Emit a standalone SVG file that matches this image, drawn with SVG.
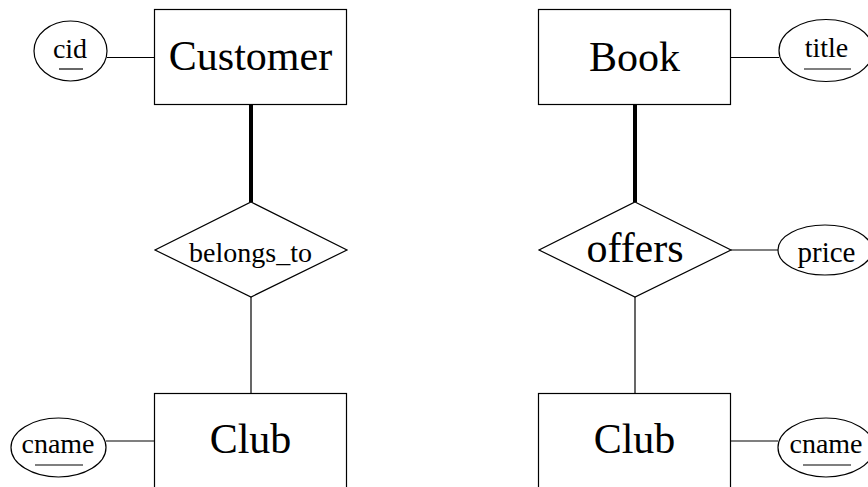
<svg xmlns="http://www.w3.org/2000/svg" width="868" height="487" viewBox="0 0 868 487">
  <style>
    .shape { fill: #fff; stroke: #000; stroke-width: 1.2; }
    .link { stroke: #000; stroke-width: 1.2; fill: none; }
    .bold { stroke: #000; stroke-width: 4; fill: none; }
    .ul { stroke: #000; stroke-width: 1.2; }
    text { font-family: "Liberation Serif", "Times New Roman", serif; fill: #000; text-anchor: middle; }
    .ent { font-size: 42px; }
    .attr { font-size: 28px; }
  </style>
  <rect width="868" height="487" fill="#fff"/>

  <!-- connectors -->
  <g id="connectors">
    <line class="link" x1="107" y1="57.5" x2="154.5" y2="57.5"/>
    <line class="bold" x1="251" y1="104.5" x2="251" y2="202"/>
    <line class="link" x1="251" y1="297" x2="251" y2="393.5"/>
    <line class="link" x1="106" y1="441" x2="154.5" y2="441"/>
    <line class="link" x1="730.5" y1="57.5" x2="779" y2="57.5"/>
    <line class="bold" x1="635" y1="104.5" x2="635" y2="202"/>
    <line class="link" x1="731" y1="250" x2="778" y2="250"/>
    <line class="link" x1="635" y1="297" x2="635" y2="393.5"/>
    <line class="link" x1="730.5" y1="441" x2="778" y2="441"/>
  </g>

  <!-- left side -->
  <g id="customer">
    <rect class="shape" x="154.5" y="9.5" width="192" height="95"/>
    <text class="ent" x="250.5" y="70">Customer</text>
  </g>
  <g id="cid">
    <ellipse class="shape" cx="70.5" cy="51" rx="36.5" ry="30"/>
    <text class="attr" x="70" y="58">cid</text>
    <line class="ul" x1="59" y1="69" x2="83" y2="69"/>
  </g>
  <g id="belongs_to">
    <polygon class="shape" points="251,202 347,250 251,297 155,250"/>
    <text class="attr" x="250.5" y="261.5">belongs_to</text>
  </g>
  <g id="club-left">
    <rect class="shape" x="154.5" y="393.5" width="192" height="95"/>
    <text class="ent" x="250.5" y="453">Club</text>
  </g>
  <g id="cname-left">
    <ellipse class="shape" cx="58.5" cy="447.5" rx="47.5" ry="29.5"/>
    <text class="attr" x="58" y="453">cname</text>
    <line class="ul" x1="35" y1="465" x2="83" y2="465"/>
  </g>

  <!-- right side -->
  <g id="book">
    <rect class="shape" x="538.5" y="9.5" width="192" height="95"/>
    <text class="ent" x="634.5" y="70.5">Book</text>
  </g>
  <g id="title">
    <ellipse class="shape" cx="826" cy="50.5" rx="47" ry="31"/>
    <text class="attr" x="826.5" y="57">title</text>
    <line class="ul" x1="804" y1="69" x2="851" y2="69"/>
  </g>
  <g id="offers">
    <polygon class="shape" points="635,202 731,250 635,297 539,250"/>
    <text class="ent" x="635" y="262">offers</text>
  </g>
  <g id="price">
    <ellipse class="shape" cx="825" cy="250" rx="47" ry="25"/>
    <text class="attr" x="826.5" y="262" style="font-size:29px">price</text>
  </g>
  <g id="club-right">
    <rect class="shape" x="538.5" y="393.5" width="192" height="95"/>
    <text class="ent" x="634.5" y="453">Club</text>
  </g>
  <g id="cname-right">
    <ellipse class="shape" cx="826" cy="447.5" rx="48" ry="29.5"/>
    <text class="attr" x="826" y="453">cname</text>
    <line class="ul" x1="803" y1="465" x2="851" y2="465"/>
  </g>
</svg>
